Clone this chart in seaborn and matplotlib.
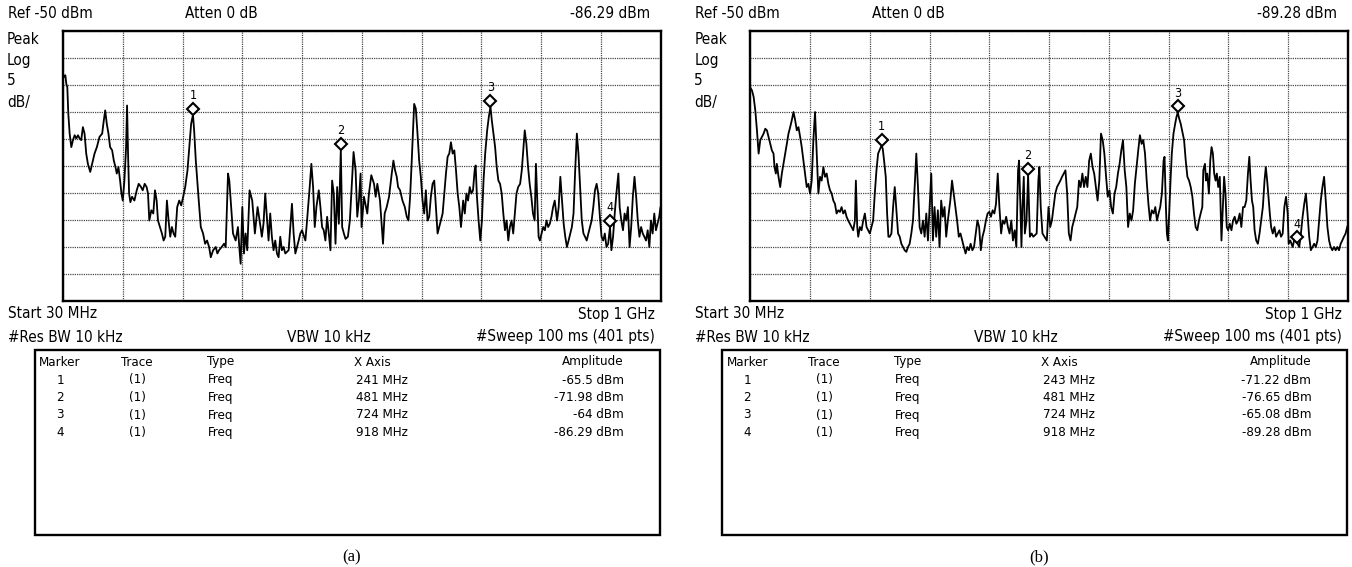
import matplotlib
matplotlib.use("Agg")
import matplotlib.pyplot as plt
import matplotlib.transforms as mtransforms
from matplotlib import font_manager
from matplotlib.patches import Rectangle
import numpy as np
import pandas as pd
import seaborn as sns

sns.set_style("white")
plt.rcParams["font.family"] = ["DejaVu Sans"]
plt.rcParams["text.color"] = "black"

W, H = 1352, 567

# Analyzer settings
ref_level = -50.0
db_per_div = 5
start_mhz, stop_mhz = 30.0, 1000.0

# Sweep traces (frequency in MHz, level in dBm)
trace_a = [
    (30.0, -57.9), (31.6, -58.5), (33.8, -58.2), (35.4, -59.8), (37.0, -60.4), (38.6, -65.3),
    (40.8, -69.0), (43.5, -71.5), (46.2, -70.2), (48.9, -69.3), (51.6, -69.9), (54.3, -69.3),
    (57.0, -69.9), (59.6, -70.2), (62.3, -67.8), (65.0, -69.0), (67.7, -72.7), (70.4, -74.6),
    (74.2, -76.1), (78.5, -74.0), (81.2, -72.7), (85.0, -71.5), (89.3, -69.6), (93.6, -69.0),
    (96.3, -66.5), (98.5, -64.7), (101.1, -67.2), (103.8, -69.0), (106.5, -71.5), (109.8, -72.1),
    (112.5, -74.0), (115.2, -75.2), (117.3, -76.4), (120.0, -75.2), (122.7, -77.7), (124.9, -80.1),
    (127.0, -81.4), (129.7, -77.7), (132.4, -71.5), (134.0, -63.8), (135.6, -72.7), (137.3, -80.1),
    (139.4, -81.7), (142.1, -80.7), (145.9, -81.4), (149.7, -79.5), (152.9, -78.3), (156.7, -78.9),
    (159.4, -79.5), (162.6, -78.3), (165.8, -78.9), (168.0, -80.1), (170.1, -85.1), (173.4, -83.2),
    (176.6, -83.8), (179.3, -79.5), (182.0, -81.4), (184.2, -85.1), (187.4, -86.3), (190.6, -87.5),
    (193.3, -88.8), (196.0, -88.1), (198.7, -81.4), (201.4, -85.1), (204.1, -88.1), (206.8, -86.3),
    (209.5, -87.5), (212.2, -88.1), (215.4, -82.6), (218.7, -81.4), (221.9, -82.3), (225.1, -80.7),
    (228.4, -78.9), (232.1, -75.8), (235.9, -70.2), (238.0, -67.2), (241.0, -65.5), (242.9, -68.4),
    (245.6, -74.0), (249.9, -80.7), (253.7, -86.3), (257.4, -87.5), (260.7, -89.4), (263.9, -88.8),
    (267.2, -90.0), (269.9, -91.9), (273.7, -90.6), (278.0, -90.0), (280.6, -91.2), (283.3, -90.6),
    (287.6, -90.0), (291.4, -89.4), (294.1, -90.0), (296.2, -82.6), (297.9, -76.4), (300.0, -77.7),
    (302.2, -81.4), (306.0, -87.5), (310.3, -88.8), (314.0, -86.3), (316.2, -90.0), (318.4, -93.1),
    (321.1, -82.6), (323.8, -91.2), (326.4, -87.5), (329.1, -90.6), (332.9, -79.5), (337.2, -81.4),
    (341.5, -87.5), (345.9, -82.6), (350.7, -86.3),
    (352.8, -88.1), (355.5, -85.7), (358.3, -80.1), (361.0, -84.4), (363.7, -88.8), (366.4, -83.8),
    (369.1, -88.1), (371.8, -90.6), (374.6, -88.8), (377.3, -91.2), (380.0, -91.9), (382.7, -88.1),
    (385.4, -90.6), (388.1, -90.0), (390.9, -91.2), (396.3, -90.6), (399.0, -86.3), (401.7, -82.0),
    (404.4, -87.5), (407.2, -91.2), (409.9, -90.0), (412.6, -88.8), (415.3, -87.5), (418.0, -86.9),
    (423.5, -88.8), (426.2, -85.1), (430.5, -78.9), (433.2, -74.6), (436.0, -78.9), (438.7, -86.3),
    (441.4, -82.6), (445.2, -79.5), (447.9, -82.6), (450.6, -86.3), (453.3, -86.9), (456.0, -88.8),
    (458.8, -84.4), (461.5, -87.5), (464.2, -90.6), (466.9, -77.7), (469.6, -80.1), (472.4, -89.4),
    (475.1, -78.9), (477.8, -85.7), (481.0, -71.98), (483.2, -86.3), (486.0, -87.5), (488.7, -88.5),
    (492.5, -88.1), (495.7, -85.1), (499.5, -77.0), (501.7, -72.4), (505.0, -75.8), (507.7, -84.4),
    (510.4, -81.4), (513.1, -76.4), (514.7, -86.3), (518.6, -80.7), (524.0, -83.8), (526.7, -80.1),
    (530.5, -76.7), (534.9, -78.3), (537.6, -80.7), (540.3, -78.3), (544.6, -81.4), (546.8, -85.1),
    (549.5, -89.4), (552.2, -83.8), (555.5, -82.6), (559.3, -80.7), (563.7, -76.4), (566.4, -74.0),
    (569.1, -75.8), (571.8, -77.0), (574.0, -78.9), (577.2, -79.5), (581.1, -81.4), (584.9, -82.6),
    (588.1, -84.4), (590.8, -85.1), (593.5, -80.7), (595.7, -75.2), (598.4, -67.8), (600.1, -63.5),
    (602.8, -64.4), (605.5, -69.0), (608.2, -74.0), (610.9, -77.0), (613.7, -81.4), (616.4, -83.8),
    (619.1, -79.5), (621.8, -85.1), (624.5, -84.4), (627.2, -80.7), (630.0, -78.3), (632.7, -77.7),
    (635.4, -82.6), (638.1, -87.5), (640.8, -86.3), (643.5, -85.1), (646.3, -83.8), (649.0, -80.1),
    (651.7, -76.4), (654.4, -73.3), (657.1, -72.7), (659.8, -70.6), (662.6, -72.7), (665.3, -72.1),
    (668.0, -75.8), (670.7, -80.1), (673.4, -82.6), (676.1, -86.3),
    (679.6, -81.4), (682.3, -83.8), (684.9, -80.1), (687.6, -81.4), (690.3, -78.9), (693.0, -80.1),
    (695.6, -79.5), (698.3, -75.8), (699.9, -74.9), (702.0, -80.7), (704.7, -85.1), (707.4, -88.8),
    (710.1, -85.1), (712.7, -77.7), (715.4, -72.7), (718.6, -68.4), (721.3, -65.9), (724.0, -64.0),
    (726.1, -66.5), (728.8, -69.0), (731.5, -71.5), (734.1, -75.2), (736.8, -77.7), (739.5, -78.3),
    (742.2, -80.1), (744.8, -83.8), (747.5, -86.9), (750.2, -85.1), (752.9, -88.8), (755.5, -86.3),
    (758.2, -85.1), (760.9, -87.5), (763.6, -83.8), (766.2, -80.1), (768.9, -78.9), (772.1, -78.3),
    (774.8, -75.8), (777.5, -71.5), (779.6, -68.4), (782.3, -70.9), (785.0, -75.2), (787.6, -78.3),
    (790.3, -80.7), (793.0, -83.8), (795.7, -85.1), (797.8, -74.6), (800.0, -81.4), (802.1, -88.1),
    (804.2, -88.8), (806.9, -87.5), (809.6, -86.3), (812.3, -86.9), (814.9, -85.1), (817.6, -86.3),
    (820.3, -85.7), (823.0, -84.4), (825.6, -82.6), (828.3, -81.4), (832.1, -85.1), (834.7, -82.6),
    (837.4, -77.0), (840.1, -81.4), (842.8, -85.7), (845.4, -88.1), (848.1, -90.0), (850.8, -88.8),
    (853.5, -87.5), (856.1, -86.3), (858.8, -83.8), (861.5, -75.8), (864.2, -69.0), (866.8, -72.7),
    (869.5, -78.9), (872.2, -85.1), (874.9, -87.5), (877.5, -88.1), (880.2, -88.8), (882.9, -87.5),
    (885.6, -86.3), (888.2, -85.1), (890.9, -82.6), (893.6, -79.5), (896.3, -78.3), (898.9, -80.1),
    (901.6, -84.4), (904.3, -88.1), (907.0, -88.8), (909.6, -87.5), (912.3, -90.0), (915.0, -89.4),
    (918.0, -86.29), (920.3, -90.6), (923.0, -88.1), (925.7, -83.8), (928.4, -80.1), (931.6, -76.4),
    (933.7, -82.6), (936.4, -85.1), (939.1, -86.9), (941.7, -83.8), (944.4, -85.1), (947.1, -82.6),
    (949.8, -90.0), (952.4, -86.3), (955.1, -80.7), (957.8, -77.0), (960.5, -80.7), (963.1, -85.1),
    (965.8, -88.1), (968.5, -86.3), (971.2, -87.5), (973.8, -88.1), (976.5, -88.8), (979.2, -86.9),
    (981.9, -90.0), (984.5, -85.1), (987.2, -87.5), (989.9, -83.8), (992.6, -86.9), (995.2, -85.7),
    (997.9, -84.4), (1000.0, -82.6),
]

trace_b = [
    (30.0, -60.5), (32.7, -61.0), (35.4, -62.2), (38.1, -64.7), (40.8, -68.4), (43.5, -72.7),
    (46.2, -70.2), (48.9, -69.6), (51.6, -69.0), (54.3, -68.1), (57.0, -68.4), (59.6, -69.6),
    (62.3, -70.9), (65.0, -72.1), (67.7, -72.7), (69.3, -75.2), (71.5, -76.4), (73.1, -74.6),
    (75.8, -77.0), (78.5, -78.9), (81.2, -76.4), (83.9, -74.6), (86.6, -72.7), (89.3, -70.9),
    (92.0, -69.0), (94.7, -67.8), (97.4, -66.5), (100.1, -65.0), (102.8, -66.5), (105.5, -68.4),
    (108.2, -67.8), (110.9, -69.6), (113.5, -71.5), (116.2, -74.0), (118.9, -76.4), (121.6, -78.9),
    (124.3, -78.3), (127.0, -80.1), (129.7, -77.7), (132.4, -70.2), (135.1, -65.0), (137.8, -72.7),
    (140.5, -80.1), (143.2, -77.0), (145.9, -77.7), (148.6, -75.2), (151.3, -77.0), (154.0, -76.4),
    (156.7, -78.3), (159.4, -79.5), (162.1, -80.1), (164.8, -81.4), (167.4, -82.0), (170.1, -83.8),
    (172.8, -83.2), (175.5, -83.5), (178.2, -82.6), (180.9, -83.8), (183.6, -83.2), (186.3, -84.4),
    (189.0, -85.1), (191.7, -85.7), (194.4, -86.3), (197.1, -86.9), (199.8, -85.1), (201.4, -77.7),
    (203.6, -86.3), (205.2, -88.1), (207.9, -86.3), (210.6, -86.9), (213.3, -85.1), (216.0, -83.8),
    (218.7, -86.3), (221.3, -86.9), (224.0, -87.5), (226.7, -86.3), (229.4, -85.1), (232.1, -80.1),
    (234.8, -75.8), (237.5, -72.7), (243.0, -71.22), (245.0, -71.8), (247.2, -74.0), (249.9, -77.0),
    (252.1, -83.8), (254.2, -88.1), (256.4, -88.1), (259.1, -87.5), (261.8, -82.6), (264.5, -78.9),
    (267.2, -83.2), (269.9, -87.5), (272.6, -88.1), (275.2, -89.4), (277.9, -90.0), (280.6, -90.6),
    (283.3, -90.9), (286.0, -90.0), (288.7, -89.4), (291.4, -87.5), (294.1, -85.1), (296.8, -78.9),
    (299.5, -72.7), (302.2, -78.9), (304.9, -86.3), (307.6, -87.5), (310.3, -85.1), (313.0, -88.1),
    (315.7, -83.8), (318.4, -88.8), (321.1, -82.6), (323.8, -76.4), (326.5, -88.8), (329.1, -82.6),
    (331.8, -88.1), (334.5, -83.2), (337.2, -90.0), (339.9, -81.4), (342.6, -84.4), (345.3, -82.6),
    (348.0, -88.1), (350.7, -85.1),
    (354.7, -81.4), (357.5, -77.7), (360.2, -80.1), (363.0, -82.6), (365.7, -85.1), (368.5, -88.1),
    (371.2, -87.5), (374.0, -88.8), (376.7, -90.0), (379.5, -91.2), (382.2, -90.0), (385.0, -90.6),
    (387.7, -89.4), (390.5, -90.6), (393.2, -90.0), (396.0, -87.5), (398.7, -85.1), (401.5, -86.3),
    (404.2, -90.6), (407.0, -88.1), (409.7, -86.9), (412.5, -85.1), (415.2, -83.8), (418.0, -83.5),
    (420.7, -84.4), (423.4, -83.2), (426.2, -83.8), (428.9, -82.0), (431.7, -76.4), (434.4, -82.6),
    (437.2, -87.5), (439.9, -85.1), (442.7, -85.7), (445.4, -84.4), (448.2, -86.3), (450.9, -87.5),
    (453.7, -85.1), (456.4, -88.8), (459.2, -86.9), (461.9, -90.0), (464.7, -75.8), (466.3, -74.0),
    (468.5, -82.6), (470.2, -90.0), (471.8, -82.6), (474.0, -77.0), (475.7, -87.5), (478.4, -85.1),
    (481.0, -76.65), (483.9, -88.1), (486.7, -87.5), (489.4, -88.1), (492.1, -87.8), (494.9, -87.5),
    (497.6, -77.7), (499.3, -75.2), (501.5, -82.6), (504.3, -87.5), (507.6, -88.1), (511.4, -88.8),
    (514.1, -82.6), (516.9, -86.3), (519.6, -85.1), (522.4, -82.6), (525.1, -80.1), (527.9, -78.9),
    (530.6, -78.3), (533.4, -77.7), (536.1, -77.0), (538.9, -76.4), (541.6, -75.8), (544.4, -80.1),
    (547.1, -87.5), (549.9, -88.8), (552.6, -86.3), (555.4, -85.1), (558.1, -83.8), (560.8, -82.6),
    (563.6, -77.7), (566.3, -78.9), (569.1, -76.4), (571.8, -78.9), (574.6, -77.0), (577.3, -78.9),
    (580.1, -74.0), (582.8, -72.7), (585.6, -75.2), (588.3, -76.4), (591.1, -78.9), (593.8, -81.4),
    (596.6, -77.7), (599.3, -69.0), (602.1, -70.2), (604.8, -72.7), (607.6, -77.0), (610.3, -80.7),
    (613.1, -79.5), (615.8, -82.6), (618.6, -83.8), (621.3, -80.1), (624.0, -78.9), (626.8, -76.4),
    (629.5, -74.6), (632.3, -72.1), (635.0, -70.2), (637.8, -75.8), (640.5, -78.9), (643.3, -86.3),
    (646.0, -83.8), (648.8, -85.1), (651.5, -83.2), (654.3, -78.3), (657.0, -75.2), (659.8, -72.1),
    (662.5, -69.3), (665.3, -70.9), (668.0, -70.2), (670.8, -72.7), (673.5, -77.7), (676.3, -82.0),
    (679.0, -85.1), (681.8, -83.2),
    (684.8, -83.8), (687.5, -82.6), (690.2, -85.1), (692.8, -83.8), (695.5, -82.6), (698.2, -80.1),
    (700.9, -74.0), (702.5, -73.3), (704.7, -82.6), (706.3, -87.5), (707.9, -88.8), (710.0, -83.8),
    (712.2, -77.7), (714.3, -72.7), (717.0, -69.0), (719.7, -67.2), (721.9, -65.9), (724.0, -65.08),
    (726.2, -66.2), (728.8, -67.2), (731.5, -68.7), (734.2, -70.2), (736.9, -74.0), (739.6, -77.0),
    (742.3, -77.7), (745.0, -78.9), (747.7, -80.7), (750.3, -83.8), (753.0, -86.3), (755.7, -86.9),
    (758.4, -85.1), (761.1, -83.8), (763.8, -82.6), (765.4, -75.8), (768.1, -74.6), (769.7, -77.7),
    (771.8, -76.4), (774.5, -80.1), (776.7, -74.0), (778.8, -71.5), (781.0, -72.7), (783.1, -76.4),
    (785.3, -77.7), (787.4, -76.4), (789.6, -78.9), (792.2, -77.0), (794.9, -88.8), (797.1, -82.6),
    (799.2, -77.0), (801.4, -80.1), (803.5, -86.3), (805.7, -86.9), (808.4, -85.7), (811.1, -86.9),
    (813.7, -85.1), (816.4, -84.4), (819.1, -85.7), (821.8, -85.1), (824.5, -83.8), (827.2, -86.3),
    (829.9, -82.6), (832.5, -82.6), (835.2, -81.4), (837.9, -76.4), (840.1, -73.3), (842.2, -77.7),
    (844.4, -81.4), (846.5, -82.6), (848.7, -86.9), (851.3, -88.8), (854.0, -89.4), (856.7, -87.5),
    (859.4, -85.1), (862.1, -82.6), (864.8, -77.7), (866.9, -75.2), (869.1, -77.7), (871.2, -80.7),
    (873.4, -83.8), (875.5, -86.3), (878.2, -87.5), (880.9, -86.3), (883.6, -88.1), (886.3, -87.5),
    (889.0, -86.9), (891.6, -88.1), (894.3, -87.5), (897.0, -82.6), (899.7, -80.7), (902.4, -83.8),
    (904.0, -89.4), (906.7, -88.8), (910.5, -90.0), (914.2, -88.1), (918.0, -89.28), (921.2, -90.0),
    (923.9, -87.5), (926.6, -84.4), (929.3, -82.0), (932.0, -80.1), (934.6, -83.8), (937.3, -88.1),
    (940.0, -90.6), (942.7, -90.0), (945.4, -89.4), (948.1, -90.0), (950.8, -88.8), (953.4, -85.1),
    (956.1, -81.4), (958.8, -78.9), (961.5, -77.0), (964.2, -81.4), (966.9, -86.3), (969.6, -88.8),
    (972.2, -90.0), (974.9, -90.6), (977.6, -90.0), (980.3, -90.6), (983.0, -90.0), (985.7, -90.6),
    (988.4, -89.4), (991.0, -88.8), (993.7, -88.1), (996.4, -87.5), (999.1, -86.3), (1000.0, -86.0),
]

# Marker table contents
marker_ids = [1, 2, 3, 4]
marker_freq_a = [241, 481, 724, 918]
marker_amp_a = [-65.5, -71.98, -64.0, -86.29]
marker_freq_b = [243, 481, 724, 918]
marker_amp_b = [-71.22, -76.65, -65.08, -89.28]
table_headers = ["Marker", "Trace", "Type", "X Axis", "Amplitude"]

# Narrow sans for the instrument lettering, falling back to condensed DejaVu
_installed = {f.name for f in font_manager.fontManager.ttflist}
if "Liberation Sans Narrow" in _installed:
    TXT = dict(family="Liberation Sans Narrow")
    FS, TFS = 13.0, 11.0
else:
    TXT = dict(family="DejaVu Sans", fontstretch="condensed")
    FS, TFS = 11.0, 9.5


def fx(x):
    return x / W


def fy(y):
    return 1.0 - y / H


def label(x, y, s, size, **kw):
    kw.setdefault("va", "center")
    return plt.gcf().text(fx(x), fy(y), s, fontsize=size, color="black", **TXT, **kw)


def draw_panel(fig, dx, trace, mfreq, mamp, caption):
    left, right, top, bottom = 63 + dx, 660.5 + dx, 31, 301
    ax = fig.add_axes([fx(left), fy(bottom), (right - left) / W, (bottom - top) / H])
    df = pd.DataFrame(trace, columns=["freq", "level"])
    sns.lineplot(data=df, x="freq", y="level", ax=ax, color="black", lw=1.3,
                 estimator=None, sort=False)
    ax.set_xlim(start_mhz, stop_mhz)
    ax.set_ylim(ref_level - 10 * db_per_div, ref_level)
    ax.set_xticks(np.linspace(start_mhz, stop_mhz, 11))
    ax.set_yticks(np.arange(ref_level - 10 * db_per_div, ref_level + 0.1, db_per_div))
    ax.tick_params(length=0, labelbottom=False, labelleft=False)
    ax.set_xlabel("")
    ax.set_ylabel("")
    ax.grid(True, color="#4a4a4a", lw=0.9, ls=(0, (1.0, 0.8)))
    for sp in ax.spines.values():
        sp.set_linewidth(1.7)
        sp.set_color("black")

    # Markers: open diamond sitting on the trace point, number above it
    diamond_tf = mtransforms.offset_copy(ax.transData, fig=fig, y=6, units="dots")
    label_tf = mtransforms.offset_copy(ax.transData, fig=fig, y=19, units="dots")
    for mid, f, a in zip(marker_ids, mfreq, mamp):
        ax.plot([f], [a], marker="D", ms=6.5, mfc="white", mec="black", mew=1.5,
                transform=diamond_tf, zorder=5)
        ax.text(f, a, str(mid), transform=label_tf, ha="center", va="center",
                fontsize=9, color="black", **TXT)

    # Header line
    label(8 + dx, 14, f"Ref {ref_level:g} dBm", FS)
    label(185 + dx, 14, "Atten 0 dB", FS)
    label(650 + dx, 14, f"{mamp[-1]:.2f} dBm", FS, ha="right")
    for txt, yy in zip(["Peak", "Log", f"{db_per_div}", "dB/"], [39, 60, 81, 102]):
        label(7 + dx, yy, txt, FS)

    # Sweep settings
    label(8 + dx, 314, f"Start {start_mhz:g} MHz", FS)
    label(655 + dx, 314, "Stop 1 GHz", FS, ha="right")
    label(8 + dx, 337, "#Res BW 10 kHz", FS)
    label(287 + dx, 337, "VBW 10 kHz", FS)
    label(655 + dx, 337, "#Sweep 100 ms (401 pts)", FS, ha="right")

    # Marker table
    bx0, bx1, by0, by1 = 35 + dx, 660 + dx, 350, 535
    fig.add_artist(Rectangle((fx(bx0), fy(by1)), (bx1 - bx0) / W, (by1 - by0) / H,
                             transform=fig.transFigure, fill=False, lw=1.7, ec="black"))
    hy = 362
    label(60 + dx, hy, table_headers[0], TFS, ha="center")
    label(137 + dx, hy, table_headers[1], TFS, ha="center")
    label(207 + dx, hy, table_headers[2], TFS)
    label(354 + dx, hy, table_headers[3], TFS)
    label(624 + dx, hy, table_headers[4], TFS, ha="right")
    for i, (mid, f, a) in enumerate(zip(marker_ids, mfreq, mamp)):
        ry = 380 + i * 17.5
        label(60 + dx, ry, str(mid), TFS, ha="center")
        label(137 + dx, ry, "(1)", TFS, ha="center")
        label(208 + dx, ry, "Freq", TFS)
        label(356 + dx, ry, f"{f} MHz", TFS)
        label(624 + dx, ry, f"{a:g} dBm", TFS, ha="right")

    fig.text(fx(352 + dx), fy(557), caption, fontsize=12, family="Liberation Serif",
             color="black", va="center", ha="center")
    return ax


fig = plt.figure(figsize=(W / 100, H / 100), dpi=100)
fig.patch.set_facecolor("white")
draw_panel(fig, 0, trace_a, marker_freq_a, marker_amp_a, "(a)")
draw_panel(fig, 687.3, trace_b, marker_freq_b, marker_amp_b, "(b)")
fig.savefig("out.png", dpi=100, facecolor="white")
